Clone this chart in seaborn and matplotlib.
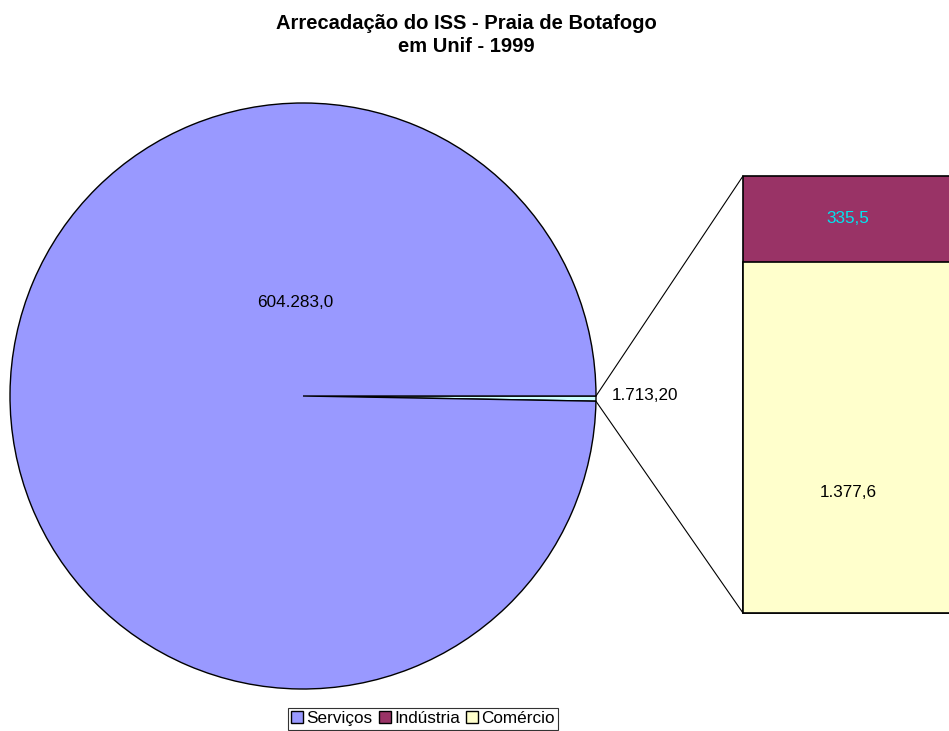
import matplotlib
matplotlib.use("Agg")
import matplotlib.pyplot as plt
from matplotlib.patches import Patch, ConnectionPatch
import numpy as np
import pandas as pd
import seaborn as sns

# dados
pie_labels = ["Outros", "Serviços"]
pie_values = [1713.20, 604283.0]
pie_texts = ["1.713,20", "604.283,0"]

bar_labels = ["Comércio", "Indústria"]
bar_values = [1377.6, 335.5]
bar_texts = ["1.377,6", "335,5"]

cores = {"Serviços": "#9999FF", "Indústria": "#993366",
         "Comércio": "#FFFFCC", "Outros": "#CCFFFF"}

sns.set_style("white")
plt.rcParams["font.family"] = ["Liberation Sans", "DejaVu Sans"]
plt.rcParams["text.color"] = "black"

W, H = 949, 731
fig = plt.figure(figsize=(W / 100, H / 100), dpi=100)
fs = 12.3

# pizza
cx, cy, r = 303, 396, 293
ax_pie = fig.add_axes([(cx - r) / W, (H - cy - r) / H, 2 * r / W, 2 * r / H])
ax_pie.pie(pie_values, colors=[cores[k] for k in pie_labels], startangle=0,
           counterclock=False, radius=1,
           wedgeprops=dict(edgecolor="black", linewidth=1))
ax_pie.set_xlim(-1, 1)
ax_pie.set_ylim(-1, 1)
ax_pie.axis("off")
for p in ax_pie.patches:
    p.set_clip_on(False)
ax_pie.text(-0.027, 0.32, pie_texts[1], ha="center", va="center", fontsize=fs)
ax_pie.text(1.055, 0.0, pie_texts[0], ha="left", va="center", fontsize=fs)

# barra empilhada
bx0, btop, bbot, bw = 743, 176, 613, 210
ax_bar = fig.add_axes([bx0 / W, (H - bbot) / H, bw / W, (bbot - btop) / H])
total = sum(bar_values)
df = pd.DataFrame({"x": [0], "total": [total], "base": [bar_values[0]]})
sns.barplot(data=df, x="x", y="total", color=cores["Indústria"], width=1,
            edgecolor="black", linewidth=1.2, saturation=1, ax=ax_bar)
sns.barplot(data=df, x="x", y="base", color=cores["Comércio"], width=1,
            edgecolor="black", linewidth=1.2, saturation=1, ax=ax_bar)
for p in ax_bar.patches:
    p.set_clip_on(False)
ax_bar.set_xlim(-0.5, 0.5)
ax_bar.set_ylim(0, total)
ax_bar.axis("off")
ax_bar.text(0, 474, bar_texts[0], ha="center", va="center", fontsize=fs)
ax_bar.text(0, bar_values[0] + bar_values[1] / 2, bar_texts[1], ha="center",
            va="center", fontsize=fs, color="#00E5F0")

# linhas de ligação
ang = np.deg2rad(-360 * pie_values[0] / sum(pie_values))
for (xa, ya), yb in [((1, 0), total), ((np.cos(ang), np.sin(ang)), 0)]:
    con = ConnectionPatch(xyA=(xa, ya), coordsA=ax_pie.transData,
                          xyB=(-0.5, yb), coordsB=ax_bar.transData,
                          color="black", linewidth=0.8)
    fig.add_artist(con)

# título
fig.text(466 / W, 1 - 35 / H, "Arrecadação do ISS - Praia de Botafogo\nem Unif - 1999",
         ha="center", va="center", fontsize=14.5, fontweight="bold",
         linespacing=1.25)

# legenda
handles = [Patch(facecolor=cores[k], edgecolor="black", linewidth=1)
           for k in ["Serviços", "Indústria", "Comércio"]]
leg = fig.legend(handles, ["Serviços", "Indústria", "Comércio"], ncol=3,
                 loc="upper center", bbox_to_anchor=(423 / W, 1 - 708 / H),
                 fontsize=fs, frameon=True, fancybox=False, edgecolor="black",
                 handlelength=0.7, handleheight=0.7, handletextpad=0.2,
                 columnspacing=0.35, borderpad=0.2, borderaxespad=0)
leg.get_frame().set_linewidth(0.8)

fig.savefig("out.png", dpi=100, facecolor="white")
